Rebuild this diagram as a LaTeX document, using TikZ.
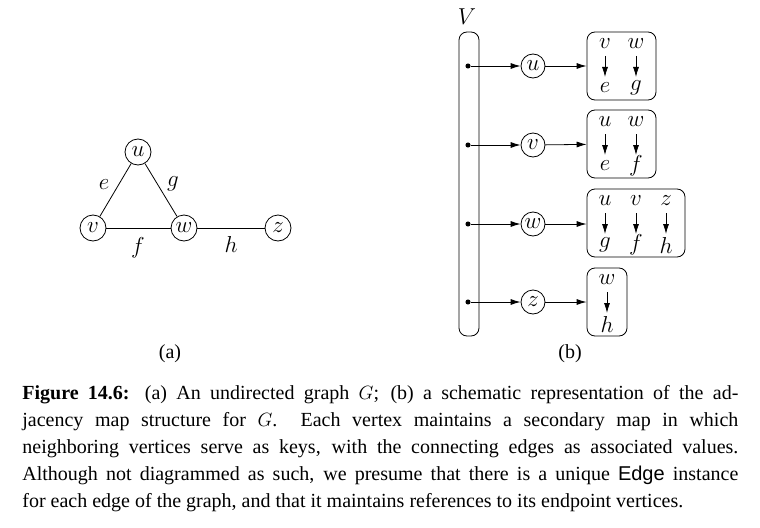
\documentclass[tikz,border=0pt]{standalone}
\usepackage{fontspec}
\setmainfont{Liberation Serif}
\setsansfont{Liberation Sans}
\usetikzlibrary{arrows.meta}
\begin{document}
\begin{tikzpicture}[x=0.75pt,y=-0.75pt,line width=0.6pt,
  lab/.style={font=\fontsize{16}{18}\selectfont,inner sep=0pt},
  gv/.style={circle,draw,minimum size=19.5pt,inner sep=0pt,font=\fontsize{16}{18}\selectfont},
  mv/.style={circle,draw,minimum size=18pt,inner sep=0pt,font=\fontsize{16}{18}\selectfont},
  dotn/.style={circle,fill,minimum size=3.8pt,inner sep=0pt},
  mbox/.style={draw,rounded corners=6pt,minimum height=51pt,inner sep=0pt},
  arr/.style={-{Latex[length=7.5pt,width=4.5pt]}},
  karr/.style={-{Latex[length=7.5pt,width=4.5pt]}}]
\useasboundingbox (0,0) rectangle (760,528);
% (a) graph
\node[gv] (u) at (138,152) {$u$};
\node[gv] (v) at (93,228) {$v$};
\node[gv] (w) at (184,228) {$w$};
\node[gv] (z) at (278,228) {$z$};
\draw (u) -- (v);
\draw (u) -- (w);
\draw (v) -- (w);
\draw (w) -- (z);
\node[lab] (le) at (104,185) {$e$};
\node[lab] (lg) at (173,184) {$g$};
\node[lab] (lf) at (138,248) {$f$};
\node[lab] (lh) at (231,244) {$h$};
\node[font=\fontsize{15}{17}\selectfont] (ca) at (170,354) {(a)};
% (b) adjacency map
\node[lab] (Vl) at (467,17) {$V$};
\node[draw,rounded corners=6pt,minimum width=15pt,minimum height=228pt,inner sep=0pt] (bar) at (469,184) {};
\foreach \n/\y/\t in {1/66/u,2/145/v,3/224/w,4/302/z}{
  \node[dotn] (d\n) at (468,\y) {};
  \node[mv] (m\n) at (533,\y) {$\t$};
  \draw[arr] (d\n) -- (m\n);
}
\node[mbox,minimum width=51.75pt] (b1) at (621.5,66) {};
\node[mbox,minimum width=51.75pt] (b2) at (621.5,144) {};
\node[mbox,minimum width=73.5pt] (b3) at (636,223) {};
\node[mbox,minimum width=30pt] (b4) at (607,302) {};
\draw[arr] (m1) -- (b1);
\draw[arr] (m2) -- (b2);
\draw[arr] (m3) -- (b3.west |- m3);
\draw[arr] (m4) -- (b4.west |- m4);
% box contents
\foreach \n/\x/\y/\k/\v in {a/605/66/v/e, b/636/66/w/g, c/605/144/u/e, d/636/144/w/f,
   e/605/223/u/g, f/636/223/v/f, g/666/223/z/h, h/607/302/w/h}{
  \node[lab] (k\n) at (\x,\y-22) {$\k$};
  \node[lab] (v\n) at (\x,\y+22) {$\v$};
  \draw[karr] (\x,\y-10) coordinate (s\n) -- (\x,\y+11) coordinate (t\n);
}
\node[font=\fontsize{15}{17}\selectfont] (cb) at (570,354) {(b)};
% caption
\node[anchor=north west,inner sep=0pt,text width=537pt,align=justify,
  font=\fontsize{15}{20.25}\selectfont] (cap) at (22,385) {%
\textbf{Figure 14.6:} (a) An undirected graph $G$; (b) a schematic representation of the ad-\linebreak
jacency map structure for $G$.\ \ Each vertex maintains a secondary map in which\linebreak
neighboring vertices serve as keys, with the connecting edges as associated values.\linebreak
Although not diagrammed as such, we presume that there is a unique \textsf{Edge} instance\linebreak
for each edge of the graph, and that it maintains references to its endpoint vertices.};
\end{tikzpicture}
\end{document}
